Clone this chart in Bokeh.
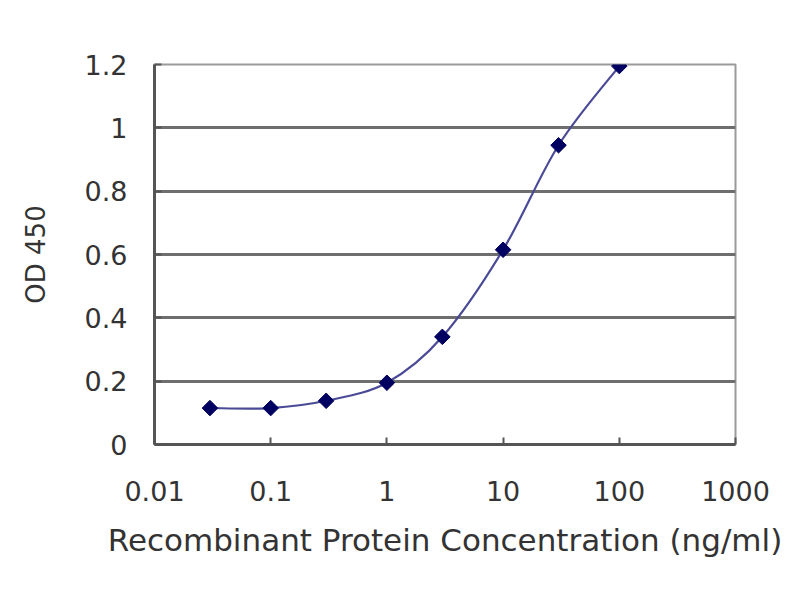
import numpy as np
from bokeh.plotting import figure
from bokeh.models import FixedTicker, ColumnDataSource
from bokeh.embed import file_html
from bokeh.resources import INLINE

# ---- data ----
concentration = [0.03, 0.1, 0.3, 1, 3, 10, 30, 100]
od450 = [0.115, 0.115, 0.138, 0.195, 0.34, 0.615, 0.945, 1.195]
x_ticks = [0.01, 0.1, 1, 10, 100, 1000]
x_tick_labels = ["0.01", "0.1", "1", "10", "100", "1000"]
y_ticks = [0, 0.2, 0.4, 0.6, 0.8, 1.0, 1.2]
y_tick_labels = ["0", "0.2", "0.4", "0.6", "0.8", "1", "1.2"]
x_title = "Recombinant Protein Concentration (ng/ml)"
y_title = "OD 450"

FONT = "DejaVu Sans"
TXT = "#333333"

p = figure(width=784, height=584, x_axis_type="log",
           x_range=(0.01, 1000), y_range=(0, 1.2),
           output_backend="svg", toolbar_location=None,
           min_border_left=154, min_border_right=49,
           min_border_top=64, min_border_bottom=140,
           background_fill_color="white", border_fill_color="white")

p.outline_line_color = "#9a9a9a"
p.outline_line_width = 2

# grid
p.xgrid.grid_line_color = None
p.ygrid.ticker = FixedTicker(ticks=y_ticks[1:-1])
p.ygrid.grid_line_color = "#6e6e6e"
p.ygrid.grid_line_width = 3

# axes
p.xaxis.ticker = FixedTicker(ticks=x_ticks)
p.xaxis.major_label_overrides = {t: l for t, l in zip(x_ticks, x_tick_labels)}
p.yaxis.ticker = FixedTicker(ticks=y_ticks)
p.yaxis.major_label_overrides = {t: l for t, l in zip(y_ticks, y_tick_labels)}
for ax in (p.xaxis[0], p.yaxis[0]):
    ax.axis_line_color = "#555555"
    ax.axis_line_width = 3
    ax.major_tick_line_color = "#555555"
    ax.major_tick_line_width = 2
    ax.major_tick_in = 7
    ax.major_tick_out = 0
    ax.minor_tick_line_color = None
    ax.major_label_text_font = FONT
    ax.major_label_text_font_size = "27px"
    ax.major_label_text_color = TXT
    ax.axis_label_text_font = FONT
    ax.axis_label_text_font_style = "normal"
    ax.axis_label_text_color = TXT

p.xaxis.axis_label = x_title
p.xaxis.axis_label_text_font_size = "31px"
p.xaxis.major_label_standoff = 36
p.xaxis.axis_label_standoff = 18
p.yaxis.axis_label = y_title
p.yaxis.axis_label_text_font_size = "26px"
p.yaxis.major_label_standoff = 27
p.yaxis.axis_label_standoff = 31

# smooth curve: Catmull-Rom segments computed in (log10 x, y) space
lx = np.log10(np.array(concentration, dtype=float))
yy = np.array(od450, dtype=float)
n = len(lx)
x0, y0, x1, y1, cx0, cy0, cx1, cy1 = ([] for _ in range(8))
for i in range(n - 1):
    ia, ib = max(i - 1, 0), min(i + 2, n - 1)
    x0.append(10 ** lx[i]); y0.append(yy[i])
    x1.append(10 ** lx[i + 1]); y1.append(yy[i + 1])
    cx0.append(10 ** (lx[i] + (lx[i + 1] - lx[ia]) / 6))
    cy0.append(yy[i] + (yy[i + 1] - yy[ia]) / 6)
    cx1.append(10 ** (lx[i + 1] - (lx[ib] - lx[i]) / 6))
    cy1.append(yy[i + 1] - (yy[ib] - yy[i]) / 6)

p.bezier(x0=x0, y0=y0, x1=x1, y1=y1, cx0=cx0, cy0=cy0, cx1=cx1, cy1=cy1,
         line_color="#4a4a96", line_width=2.2)

src = ColumnDataSource(dict(x=concentration, y=od450))
p.scatter("x", "y", source=src, marker="square", angle=np.pi / 4, size=11,
          fill_color="#000060", line_color="#000060")

open("out.html", "w").write(file_html(p, INLINE))
